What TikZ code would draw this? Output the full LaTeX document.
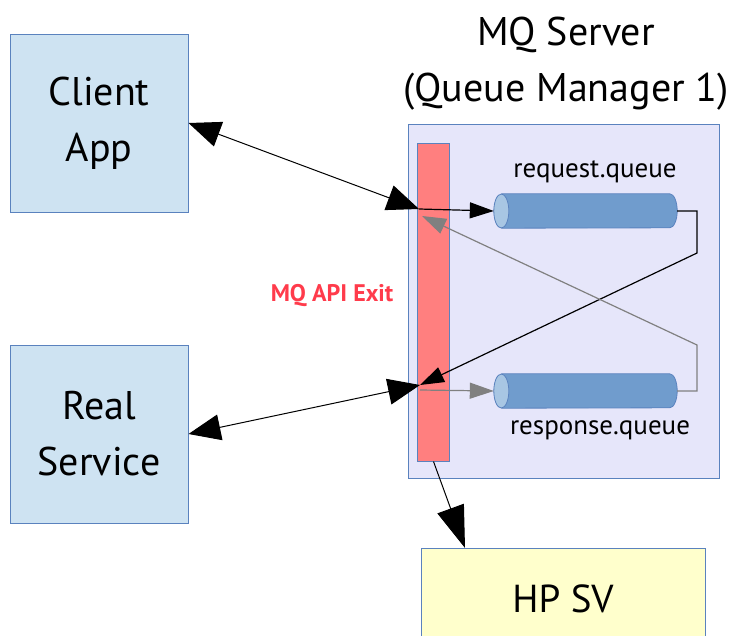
\documentclass[tikz,border=0pt]{standalone}
\usepackage{fontspec}
\setmainfont{PT Sans}
\usetikzlibrary{shapes.geometric}
\usetikzlibrary{arrows.meta}
\usetikzlibrary{positioning}
\usetikzlibrary{calc}
\definecolor{edgeblue}{HTML}{5A82BE}
\definecolor{appblue}{HTML}{CEE3F2}
\definecolor{serverlilac}{HTML}{E6E6FA}
\definecolor{exitred}{HTML}{FF7F7F}
\definecolor{queueblue}{HTML}{709CCD}
\definecolor{queueend}{HTML}{A8C6E3}
\definecolor{svyellow}{HTML}{FFFFCC}
\definecolor{labelred}{HTML}{FF3B4B}
\tikzset{
	appbox/.style={draw=edgeblue,fill=appblue,line width=1pt,minimum width=178pt,minimum height=178pt,align=center,font=\fontsize{40}{56}\selectfont},
	queue/.style={minimum width=183pt,minimum height=34pt,inner sep=0pt},
	bigtip/.style={-{Triangle[length=42pt,width=28pt]}},
	bothtips/.style={{Triangle[length=32pt,width=26pt]}-{Triangle[length=32pt,width=26pt]}},
	smalltip/.style={-{Triangle[length=24pt,width=16pt]}}
}
% horizontal tube drawn inside a named node
\newcommand\queuetube[1]{
	\fill[queueblue] ($(#1.north west)+(7.5,0)$) -- ($(#1.north east)+(-7.5,0)$) arc[start angle=-90,end angle=90,x radius=7.5,y radius=17]
		-- ($(#1.south west)+(7.5,0)$) arc[start angle=90,end angle=270,x radius=7.5,y radius=17] -- cycle;
	\draw[edgeblue,line width=0.8pt] ($(#1.north west)+(7.5,0)$) -- ($(#1.north east)+(-7.5,0)$) arc[start angle=-90,end angle=90,x radius=7.5,y radius=17]
		-- ($(#1.south west)+(7.5,0)$);
	\filldraw[fill=queueend,draw=edgeblue,line width=0.8pt] ($(#1.west)+(7.5,0)$) ellipse[x radius=7.5,y radius=17];
}
\begin{document}
\begin{tikzpicture}[x=1pt,y=-1pt]
		\useasboundingbox (0,0) rectangle (736,635);
		% outer boxes
		\node[appbox] (clientapp) at (99,123) {Client\\App};
		\node[appbox] (realservice) at (99,434) {Real\\Service};
		\node[draw=edgeblue,fill=serverlilac,line width=1pt,minimum width=311pt,minimum height=354pt] (mqserver) at (563.5,301) {};
		\node[align=center,font=\fontsize{40}{56}\selectfont] (mqtitle) at (566,64) {MQ Server\\(Queue Manager 1)};
		\node[draw=edgeblue,fill=svyellow,line width=1pt,anchor=north,minimum width=284pt,minimum height=100pt,font=\fontsize{39}{46}\selectfont] (hpsv) at (563,548) {HP SV};
		% queue manager content
		\node[draw=edgeblue,fill=exitred,line width=1pt,minimum width=32pt,minimum height=318pt,inner sep=0pt] (exit) at (433.5,302) {};
		\node[text=labelred,font=\fontsize{24}{28}\bfseries] (exitlabel) at (332,296) {MQ API Exit};
		\node[queue] (reqq) at (585.5,211) {};
		\node[queue] (respq) at (585.5,391) {};
		\queuetube{reqq}
		\queuetube{respq}
		\node[font=\fontsize{27}{30}\selectfont] (reqlabel) at (595,172) {request.queue};
		\node[font=\fontsize{27}{30}\selectfont] (resplabel) at (600,430) {response.queue};
		\coordinate (reqin) at (419,209);
		\coordinate (respin) at (420,385);
		\coordinate (respout) at (420,390);
		\coordinate (reqback) at (422,216);
		\coordinate (reqturn) at (697,253);
		\coordinate (respturn) at (697,345);
		\coordinate (svin) at (465,548);
		% connectors
		\draw[bothtips,line width=1pt] (clientapp.east) -- (reqin);
		\draw[bothtips,line width=1pt] (realservice.east) -- (respin);
		\draw[smalltip,line width=1.2pt] (reqin) -- (reqq.west);
		\draw[smalltip,gray,line width=1.2pt] (respout) -- (respq.west);
		\draw[smalltip,line width=1.2pt] (reqq.east) -| (reqturn) -- (respin);
		\draw[smalltip,gray,line width=1.2pt] (respq.east) -| (respturn) -- (reqback);
		\draw[bigtip,line width=1pt] (exit.south) -- (svin);
\end{tikzpicture}
\end{document}
